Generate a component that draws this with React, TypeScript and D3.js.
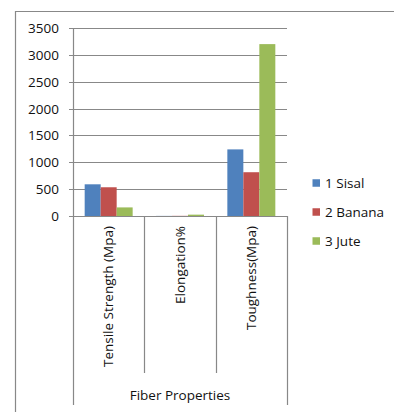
import React, { useEffect, useRef } from 'react';
import * as d3 from 'd3';

const categories = ['Tensile Strength (Mpa)', 'Elongation%', 'Toughness(Mpa)'];
const seriesNames = ['1 Sisal', '2 Banana', '3 Jute'];
const sisal = [590, 2, 1240];
const banana = [535, 3, 815];
const jute = [160, 25, 3200];
const yTicks = [0, 500, 1000, 1500, 2000, 2500, 3000, 3500];
const axisTitle = 'Fiber Properties';

const colors = ['#4F81BD', '#C0504D', '#9BBB59'];
const font = '"Open Sans", "Liberation Sans", sans-serif';

const App = () => {
  const svgRef = useRef<SVGSVGElement | null>(null);

  useEffect(() => {
    const svg = d3.select(svgRef.current);
    svg.selectAll('*').remove();

    const width = 394;
    const height = 412;
    const left = 73, right = 287, top = 28, bottom = 216;
    const grid = '#888888';
    const fontSize = '13.5px';

    svg.attr('width', width).attr('height', height);

    // outer chart border (cropped at right and bottom)
    svg.append('path')
      .attr('d', `M15.5,${height} V11.5 H${width}`)
      .attr('fill', 'none')
      .attr('stroke', grid)
      .attr('stroke-width', 1.2);

    const y = d3.scaleLinear().domain([0, 3500]).range([bottom, top]);
    const x0 = d3.scaleBand().domain(categories).range([left, right]).padding(0);
    const x1 = d3.scaleBand().domain(seriesNames).range([0, x0.bandwidth()]).paddingInner(0).paddingOuter(0.73);

    // gridlines + ticks
    yTicks.forEach(t => {
      const yy = Math.round(y(t)) + 0.5;
      svg.append('line')
        .attr('x1', left - 4).attr('x2', right)
        .attr('y1', yy).attr('y2', yy)
        .attr('stroke', grid).attr('stroke-width', 1.2);
      svg.append('text')
        .attr('x', 59).attr('y', yy)
        .attr('dy', '0.35em')
        .attr('text-anchor', 'end')
        .style('font-family', font)
        .style('font-size', fontSize)
        .attr('fill', '#111')
        .text(t);
    });

    // bars
    const values = [sisal, banana, jute];
    values.forEach((vals, si) => {
      svg.append('g').selectAll('rect')
        .data(vals)
        .join('rect')
        .attr('x', (d, i) => (x0(categories[i]) as number) + (x1(seriesNames[si]) as number))
        .attr('y', d => y(d))
        .attr('width', x1.bandwidth())
        .attr('height', d => bottom - y(d))
        .attr('fill', colors[si]);
    });

    // axis lines
    svg.append('line')
      .attr('x1', left + 0.5).attr('x2', left + 0.5)
      .attr('y1', top).attr('y2', 405)
      .attr('stroke', grid).attr('stroke-width', 1.2);
    svg.append('line')
      .attr('x1', right + 0.5).attr('x2', right + 0.5)
      .attr('y1', bottom).attr('y2', 405)
      .attr('stroke', grid).attr('stroke-width', 1.2);
    categories.slice(1).forEach(c => {
      const xx = Math.round(x0(c) as number) + 0.5;
      svg.append('line')
        .attr('x1', xx).attr('x2', xx)
        .attr('y1', bottom).attr('y2', 373)
        .attr('stroke', grid).attr('stroke-width', 1.2);
    });

    // category labels
    categories.forEach(c => {
      const cx = (x0(c) as number) + x0.bandwidth() / 2;
      svg.append('text')
        .attr('transform', `translate(${cx},226) rotate(-90)`)
        .attr('dy', '0.35em')
        .attr('text-anchor', 'end')
        .style('font-family', font)
        .style('font-size', fontSize)
        .attr('fill', '#111')
        .text(c);
    });

    svg.append('text')
      .attr('x', (left + right) / 2)
      .attr('y', 395)
      .attr('dy', '0.35em')
      .attr('text-anchor', 'middle')
      .style('font-family', font)
      .style('font-size', fontSize)
      .attr('fill', '#111')
      .text(axisTitle);

    // legend
    const legend = svg.append('g');
    seriesNames.forEach((s, i) => {
      const ly = 183 + i * 29;
      legend.append('rect')
        .attr('x', 312.5).attr('y', ly - 3.75)
        .attr('width', 7.5).attr('height', 7.5)
        .attr('fill', colors[i]);
      legend.append('text')
        .attr('x', 325).attr('y', ly)
        .attr('dy', '0.35em')
        .style('font-family', font)
        .style('font-size', fontSize)
        .attr('fill', '#111')
        .text(s);
    });
  }, []);

  return (
    <div style={{ position: 'absolute', left: 0, top: 0, background: 'white' }}>
      <svg ref={svgRef} style={{ display: 'block' }} />
    </div>
  );
};

export default App;
